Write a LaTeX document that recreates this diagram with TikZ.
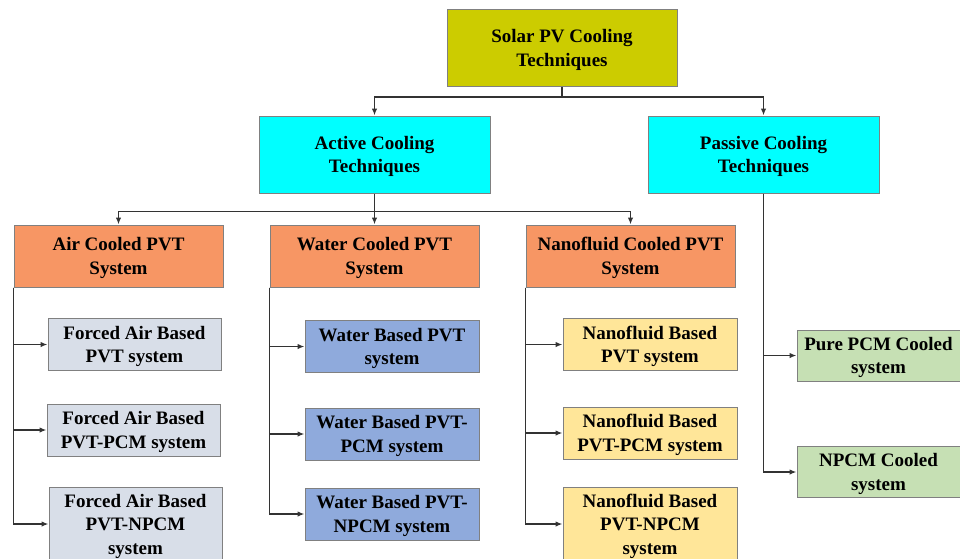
\documentclass[tikz,border=0pt]{standalone}
\usepackage{fontspec}
\setmainfont{Liberation Serif}
\usetikzlibrary{arrows.meta}

\definecolor{rootcol}{RGB}{204,204,0}
\definecolor{techcol}{RGB}{0,255,255}
\definecolor{syscol}{RGB}{247,150,100}
\definecolor{aircol}{RGB}{216,222,232}
\definecolor{watercol}{RGB}{143,170,220}
\definecolor{nanocol}{RGB}{255,230,153}
\definecolor{pcmcol}{RGB}{198,224,180}

\begin{document}
\begin{tikzpicture}[
x=1pt, y=-1pt,
font=\fontsize{19}{23.5}\selectfont\bfseries
]

\tikzstyle{bx} = [draw=black!50, line width=1pt, shape=rectangle, align=center, inner sep=1pt, text depth=-2pt]
\tikzstyle{t} = [bx, fill=rootcol, minimum width=230, minimum height=77]
\tikzstyle{tc} = [bx, fill=techcol, minimum width=231, minimum height=77]
\tikzstyle{s} = [bx, fill=syscol, minimum width=209, minimum height=62]
\tikzstyle{a} = [bx, fill=aircol, minimum width=173, minimum height=52]
\tikzstyle{w} = [bx, fill=watercol, minimum width=174, minimum height=52]
\tikzstyle{nf} = [bx, fill=nanocol, minimum width=174, minimum height=52]
\tikzstyle{p} = [bx, fill=pcmcol, minimum width=163, minimum height=51]
\tikzstyle{ln} = [draw=black!80, line width=1.4pt]
\tikzstyle{arr} = [ln, -{Latex[length=7pt,width=5.5pt]}]

\useasboundingbox (0,0) rectangle (960,558);
\clip (0,0) rectangle (960,558);

% top levels
\node[t] (root) at (562,48) {Solar PV Cooling\\Techniques};
\node[tc] (active) at (374.5,154.5) {Active Cooling\\Techniques};
\node[tc] (passive) at (763.5,154.5) {Passive Cooling\\Techniques};

% active systems
\node[s] (air) at (118.5,256) {Air Cooled PVT\\System};
\node[s] (water) at (374.5,256) {Water Cooled PVT\\System};
\node[s] (nano) at (630.5,256) {Nanofluid Cooled PVT\\System};

% air
\node[a] (fa1) at (134.5,344.5) {Forced Air Based\\PVT system};
\node[a] (fa2) at (133.5,430) {Forced Air Based\\PVT-PCM system};
\node[a, minimum height=74] (fa3) at (135.5,524) {Forced Air Based\\PVT-NPCM\\system};

% water
\node[w] (wa1) at (392,346.5) {Water Based PVT\\system};
\node[w] (wa2) at (392,434) {Water Based PVT-\\PCM system};
\node[w] (wa3) at (392,514) {Water Based PVT-\\NPCM system};

% nanofluid
\node[nf] (nf1) at (650,344.5) {Nanofluid Based\\PVT system};
\node[nf] (nf2) at (650,433) {Nanofluid Based\\PVT-PCM system};
\node[nf, minimum height=74] (nf3) at (650,524) {Nanofluid Based\\PVT-NPCM\\system};

% passive
\node[p] (pc1) at (878.5,355.5) {Pure PCM Cooled\\system};
\node[p] (pc2) at (878.5,472) {NPCM Cooled\\system};

% connectors
\draw[ln] (root.south) -- ++(0,10) coordinate (rb);
\draw[arr] (rb) -| (active.north);
\draw[arr] (rb) -| (passive.north);

\draw[ln] (active.south) -- ++(0,18) coordinate (ab);
\draw[arr] (ab) -| (air.north);
\draw[arr] (ab) -- (water.north);
\draw[arr] (ab) -| (nano.north);

\foreach \c in {fa1,fa2,fa3} \draw[arr] (air.south west) |- (\c.west);
\foreach \c in {wa1,wa2,wa3} \draw[arr] (water.south west) |- (\c.west);
\foreach \c in {nf1,nf2,nf3} \draw[arr] (nano.south west) |- (\c.west);
\foreach \c in {pc1,pc2} \draw[arr] (passive.south) |- (\c.west);

\end{tikzpicture}
\end{document}
